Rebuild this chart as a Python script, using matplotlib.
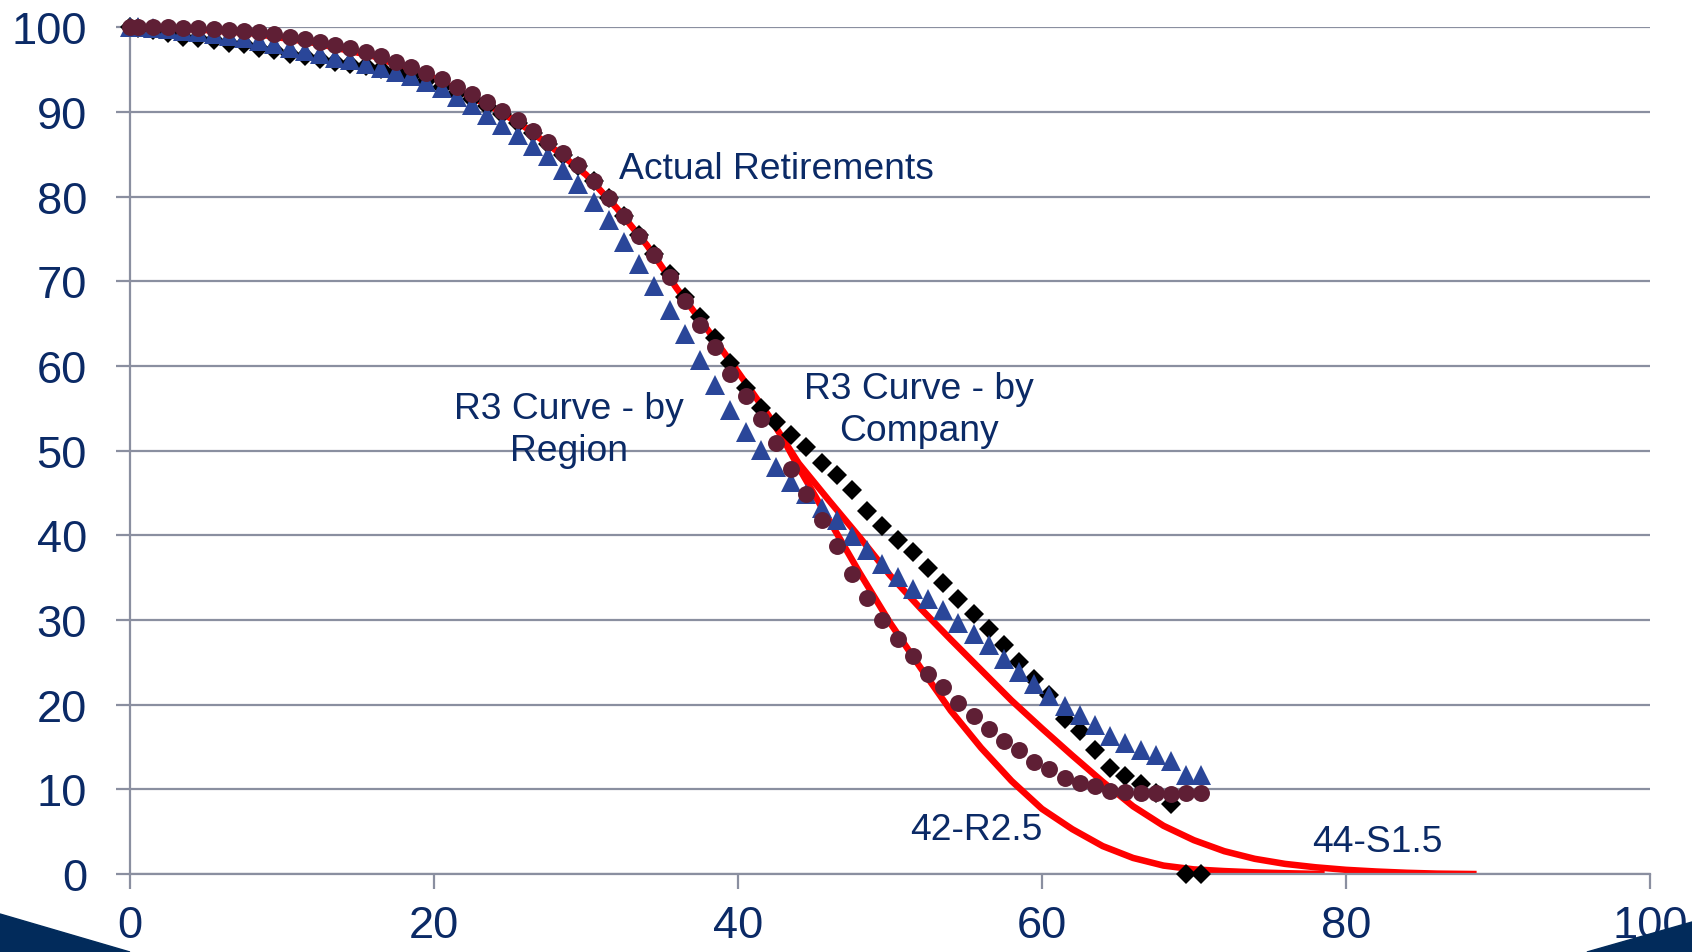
import matplotlib
matplotlib.use("Agg")
import matplotlib.pyplot as plt
from matplotlib.patches import Polygon

# ages (years) of the observed points
ages = [0, 0.5, 1.5, 2.5, 3.5, 4.5, 5.5, 6.5, 7.5, 8.5, 9.5,
        10.5, 11.5, 12.5, 13.5, 14.5, 15.5, 16.5, 17.5, 18.5, 19.5,
        20.5, 21.5, 22.5, 23.5, 24.5, 25.5, 26.5, 27.5, 28.5, 29.5,
        30.5, 31.5, 32.5, 33.5, 34.5, 35.5, 36.5, 37.5, 38.5, 39.5,
        40.5, 41.5, 42.5, 43.5, 44.5, 45.5, 46.5, 47.5, 48.5, 49.5,
        50.5, 51.5, 52.5, 53.5, 54.5, 55.5, 56.5, 57.5, 58.5, 59.5,
        60.5, 61.5, 62.5, 63.5, 64.5, 65.5, 66.5, 67.5, 68.5, 69.5,
        70.5]

actual = [100, 100, 100, 100, 99.9, 99.9, 99.8, 99.7, 99.6, 99.4, 99.2,
          98.9, 98.6, 98.3, 97.9, 97.5, 97.1, 96.6, 95.9, 95.3, 94.6,
          93.9, 93.0, 92.1, 91.2, 90.1, 89.1, 87.8, 86.5, 85.1, 83.7,
          81.9, 79.8, 77.7, 75.4, 73.1, 70.5, 67.7, 64.9, 62.2, 59.1,
          56.5, 53.7, 50.9, 47.8, 44.9, 41.8, 38.8, 35.4, 32.6, 30.0,
          27.8, 25.7, 23.6, 22.1, 20.2, 18.7, 17.1, 15.7, 14.6, 13.2,
          12.4, 11.3, 10.8, 10.4, 9.8, 9.7, 9.6, 9.6, 9.5, 9.6,
          9.6]

by_region = [100, 100, 99.9, 99.8, 99.6, 99.4, 99.2, 99.0, 98.7, 98.4, 98.0,
             97.6, 97.2, 96.8, 96.4, 96.1, 95.7, 95.2, 94.7, 94.2, 93.5,
             92.8, 91.8, 90.8, 89.6, 88.5, 87.3, 86.0, 84.8, 83.2, 81.5,
             79.4, 77.2, 74.6, 72.0, 69.4, 66.6, 63.8, 60.7, 57.8, 54.8,
             52.2, 50.1, 48.1, 46.3, 44.9, 43.2, 41.8, 39.9, 38.3, 36.6,
             35.1, 33.7, 32.5, 31.2, 29.7, 28.4, 27.0, 25.4, 23.9, 22.4,
             21.0, 19.8, 18.8, 17.6, 16.3, 15.5, 14.7, 14.1, 13.3, 11.7,
             11.7]

by_company = [100, 99.9, 99.7, 99.3, 98.9, 98.7, 98.5, 98.2, 98.0, 97.6, 97.3,
              96.9, 96.6, 96.3, 95.9, 95.7, 95.4, 95.1, 94.7, 94.2, 93.6,
              93.0, 92.3, 91.5, 90.7, 89.8, 88.7, 87.5, 86.2, 84.9, 83.6,
              81.9, 79.8, 77.7, 75.5, 73.2, 70.9, 68.2, 65.8, 63.3, 60.4,
              57.4, 55.0, 53.4, 51.9, 50.4, 48.6, 47.1, 45.4, 42.9, 41.1,
              39.4, 38.0, 36.2, 34.4, 32.5, 30.7, 28.9, 27.0, 25.1, 23.0,
              21.1, 18.3, 16.9, 14.6, 12.5, 11.6, 10.6, 9.6, 8.3, 0.0,
              0.0]

# fitted Iowa curves
r25_age = [0, 4, 8, 12, 16, 20, 24, 26, 28, 30, 32, 34, 36, 38, 40, 42, 43,
           44, 46, 48, 50, 52, 54, 56, 58, 60, 62, 64, 66, 68, 70, 72, 74, 76, 78.6]
r25_pct = [100, 99.8, 99.3, 98.2, 96.6, 94.0, 90.4, 88.2, 85.5, 82.6, 78.7, 74.3, 69.1,
           64.3, 59.3, 54.2, 51.3, 48.0, 41.8, 35.6, 29.7, 24.4, 19.3, 14.9, 11.0,
           7.7, 5.3, 3.3, 1.9, 1.0, 0.55, 0.35, 0.2, 0.1, 0.0]

s15_age = [43, 44, 46, 48, 50, 52, 54, 56, 58, 60, 62, 64, 66, 68, 70, 72, 74,
           76, 78, 80, 82, 84, 86, 88.6]
s15_pct = [51.3, 48.5, 44.1, 39.8, 35.3, 31.4, 27.7, 24.1, 20.5, 17.2, 14.0, 10.9,
           8.0, 5.7, 4.0, 2.7, 1.8, 1.2, 0.8, 0.5, 0.3, 0.15, 0.05, 0.0]

ticks = [0, 20, 40, 60, 80, 100]
yticks = [0, 10, 20, 30, 40, 50, 60, 70, 80, 90, 100]

navy = "#0b2a66"
grid_gray = "#8a8fa0"
plt.rcParams["font.family"] = ["Liberation Sans", "DejaVu Sans"]

fig = plt.figure(figsize=(16.92, 9.53), dpi=100)
ax = fig.add_axes([0.0768, 0.0818, 0.8983, 0.8885])

ax.plot(r25_age, r25_pct, color="red", lw=4.7, zorder=2, solid_capstyle="butt",
        solid_joinstyle="round")
ax.plot(s15_age, s15_pct, color="red", lw=4.7, zorder=2, solid_capstyle="butt",
        solid_joinstyle="round")
ax.plot(ages, by_company, "D", color="black", ms=10.3, mew=0, zorder=3, clip_on=False)
ax.plot(ages, by_region, "^", color="#2a4699", ms=14, mew=0, zorder=4, clip_on=False)
ax.plot(ages, actual, "o", color="#5f1f35", ms=12.2, mew=0, zorder=5, clip_on=False)

fs = 26.8
ax.text(32.2, 83.3, "Actual Retirements", color=navy, fontsize=fs, ha="left", va="center")
ax.text(28.9, 52.5, "R3 Curve - by\nRegion", color=navy, fontsize=fs, ha="center",
        va="center", multialignment="center", linespacing=1.26)
ax.text(51.9, 54.9, "R3 Curve - by\nCompany", color=navy, fontsize=fs, ha="center",
        va="center", multialignment="center", linespacing=1.26)
ax.text(51.3, 5.3, "42-R2.5", color=navy, fontsize=fs, ha="left", va="center")
ax.text(77.8, 3.9, "44-S1.5", color=navy, fontsize=fs, ha="left", va="center")

ax.set_xlim(0, 100)
ax.set_ylim(0, 100)
ax.set_xticks(ticks)
ax.set_yticks(yticks)
ax.yaxis.grid(True, color=grid_gray, lw=1.6)
ax.set_axisbelow(True)
for side in ["top", "right"]:
    ax.spines[side].set_visible(False)
for side in ["left", "bottom"]:
    ax.spines[side].set_color(grid_gray)
    ax.spines[side].set_linewidth(1.6)
ax.tick_params(axis="y", length=10, width=1.6, color=grid_gray, labelsize=32.6,
               labelcolor=navy, pad=21)
ax.tick_params(axis="x", length=11, width=1.6, color=grid_gray, labelsize=32.6,
               labelcolor=navy, pad=11)

# slide decoration in the bottom corners
fig.add_artist(Polygon([(0, 0.0399), (0.0768, 0), (0, 0)], closed=True,
                       transform=fig.transFigure, color="#022b5b", zorder=10))
fig.add_artist(Polygon([(0.9379, 0), (1, 0.0315), (1, 0)], closed=True,
                       transform=fig.transFigure, color="#022b5b", zorder=10))

fig.savefig("out.png", dpi=100)
